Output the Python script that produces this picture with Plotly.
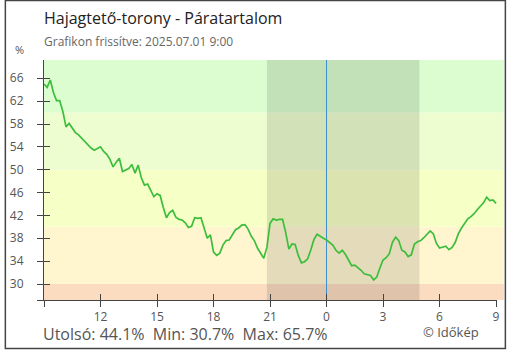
import pandas as pd
import plotly.graph_objects as go

# Relative humidity (%) at Hajagtető-torony, 10-minute readings
times = pd.date_range("2025-06-30 09:00", "2025-07-01 09:00", freq="10min")
humidity = [
    65.0, 64.4, 65.7, 63.5, 62.1, 62.1, 60.2, 57.5, 58.1, 57.2,
    56.5, 56.1, 55.5, 55.0, 54.3, 53.8, 53.4, 53.7, 54.0, 53.2,
    52.7, 51.8, 50.5, 51.3, 52.0, 49.7, 49.9, 50.2, 50.9, 49.4,
    50.8, 48.6, 47.3, 47.5, 46.4, 45.3, 45.8, 45.5, 43.4, 41.6,
    42.5, 42.9, 41.7, 41.3, 41.2, 40.7, 39.9, 40.1, 41.6, 41.5,
    41.6, 39.8, 38.0, 38.6, 35.6, 35.0, 35.4, 36.8, 37.6, 37.7,
    38.6, 39.5, 39.8, 40.3, 40.4, 39.6, 38.4, 37.6, 36.3, 35.4,
    34.5, 36.4, 40.6, 41.4, 41.2, 41.3, 41.3, 39.0, 36.1, 37.0,
    36.9, 35.0, 33.7, 33.9, 34.4, 36.0, 37.8, 38.7, 38.3, 38.0,
    37.7, 37.2, 36.8, 35.9, 35.4, 35.9, 35.2, 34.2, 33.2, 33.3,
    32.9, 32.4, 31.8, 31.7, 31.5, 30.7, 31.2, 32.8, 34.2, 34.6,
    35.3, 37.3, 38.2, 37.6, 35.9, 35.6, 34.8, 35.1, 37.0, 37.4,
    37.6, 38.1, 38.8, 39.3, 38.8, 37.1, 36.3, 36.4, 36.6, 36.0,
    36.4, 37.3, 38.8, 39.8, 40.7, 41.4, 41.8, 42.3, 43.0, 43.6,
    44.2, 45.2, 44.6, 44.7, 44.1,
]

x_tick_times = pd.to_datetime([
    "2025-06-30 09:00", "2025-06-30 12:00", "2025-06-30 15:00",
    "2025-06-30 18:00", "2025-06-30 21:00", "2025-07-01 00:00",
    "2025-07-01 03:00", "2025-07-01 06:00", "2025-07-01 09:00",
])
x_tick_labels = ["", "12", "15", "18", "21", "0", "3", "6", "9"]
y_tick_values = [30, 34, 38, 42, 46, 50, 54, 58, 62, 66]
y_tick_labels = [str(v) for v in y_tick_values]

# colour bands by humidity level: (lower, upper, colour)
band_edges = [0, 30, 40, 50, 60, 100]
band_colors = ["#fcdcc0", "#fff6d0", "#f6ffc6", "#eefdd0", "#dcfdd0"]

night_start = "2025-06-30 20:50"
night_end = "2025-07-01 04:56"
midnight = "2025-07-01 00:00"

title_text = "Hajagtető-torony - Páratartalom"
subtitle_text = "Grafikon frissítve: 2025.07.01 9:00"
credit_text = "© Időkép"

x_range = [pd.Timestamp("2025-06-30 09:00"), pd.Timestamp("2025-07-01 09:03")]
y_range = [27.2, 69.2]

FONT = "Open Sans"
AXIS = "#444444"
LABEL = "#555555"

fig = go.Figure()
fig.add_trace(go.Scatter(
    x=times, y=humidity, mode="lines",
    line=dict(color="#3cbe3c", width=1.7),
    showlegend=False, hoverinfo="skip",
))
# empty trace so the overlay axes (inner tick halves) are drawn
fig.add_trace(go.Scatter(x=[], y=[], xaxis="x2", yaxis="y2",
                         showlegend=False, hoverinfo="skip"))

shapes = []
for lo, hi, col in zip(band_edges[:-1], band_edges[1:], band_colors):
    shapes.append(dict(type="rect", xref="paper", yref="y", x0=0, x1=1.0152,
                       y0=lo, y1=hi, fillcolor=col, line=dict(width=0),
                       layer="below"))
shapes.append(dict(type="rect", xref="x", yref="paper", x0=night_start,
                   x1=night_end, y0=0, y1=1, fillcolor="rgba(0,0,0,0.11)",
                   line=dict(width=0), layer="below"))
shapes.append(dict(type="line", xref="x", yref="paper", x0=midnight,
                   x1=midnight, y0=0, y1=1,
                   line=dict(color="#3a8fd0", width=1), layer="below"))
# outer frame
shapes.append(dict(type="rect", xref="paper", yref="paper",
                   x0=-0.0853, x1=1.0185, y0=-0.2021, y1=1.2479,
                   fillcolor="rgba(0,0,0,0)", line=dict(color=AXIS, width=1.5)))

last_v, min_v, max_v = humidity[-1], min(humidity), max(humidity)
nb = "\u00a0"
stats_text = (f"Utolsó: {last_v:.1f}%{nb} Min: {min_v:.1f}%{nb} "
              f"Max: {max_v:.1f}%")

annotations = [
    dict(text=title_text, xref="paper", yref="paper", x=-0.004, y=1.173,
         xanchor="left", yanchor="middle", showarrow=False,
         font=dict(family=FONT, size=16, color="#222222")),
    dict(text=subtitle_text, xref="paper", yref="paper", x=-0.004, y=1.079,
         xanchor="left", yanchor="middle", showarrow=False,
         font=dict(family=FONT, size=12, color="#666666")),
    dict(text="%", xref="paper", yref="paper", x=-0.054, y=1.042,
         xanchor="center", yanchor="middle", showarrow=False,
         font=dict(family=FONT, size=11, color=LABEL)),
    dict(text=stats_text, xref="paper", yref="paper", x=-0.006, y=-0.142,
         xanchor="left", yanchor="middle", showarrow=False,
         font=dict(family=FONT, size=16, color=LABEL)),
    dict(text=credit_text, xref="paper", yref="paper", x=0.898, y=-0.134,
         xanchor="center", yanchor="middle", showarrow=False,
         font=dict(family=FONT, size=13, color=LABEL)),
]

fig.update_layout(
    width=510, height=350,
    margin=dict(l=40, r=10, t=60, b=50),
    paper_bgcolor="white", plot_bgcolor="white",
    font=dict(family=FONT),
    shapes=shapes, annotations=annotations,
    xaxis=dict(type="date", range=x_range, tickvals=x_tick_times,
               ticktext=x_tick_labels, ticks="outside", ticklen=6,
               tickcolor=AXIS, tickwidth=1, showline=True, linecolor=AXIS,
               linewidth=1, showgrid=False, zeroline=False,
               tickfont=dict(family=FONT, size=12, color=LABEL)),
    xaxis2=dict(type="date", overlaying="x", anchor="y", range=x_range,
                tickvals=x_tick_times, ticks="inside", ticklen=6,
                tickcolor=AXIS, tickwidth=1, showticklabels=False,
                showline=False, showgrid=False, zeroline=False),
    yaxis=dict(range=y_range, tickvals=[y_range[0]] + y_tick_values,
               ticktext=[""] + y_tick_labels, ticks="outside", ticklen=6,
               tickcolor=AXIS, tickwidth=1, showline=True, linecolor=AXIS,
               linewidth=1, showgrid=False, zeroline=False,
               ticklabelstandoff=11,
               tickfont=dict(family=FONT, size=12, color=LABEL)),
    yaxis2=dict(overlaying="y", anchor="x", side="left", range=y_range,
                tickvals=y_tick_values, ticks="inside", ticklen=6,
                tickcolor=AXIS, tickwidth=1, showticklabels=False,
                showline=False, showgrid=False, zeroline=False),
)

fig.write_html("out.html")
